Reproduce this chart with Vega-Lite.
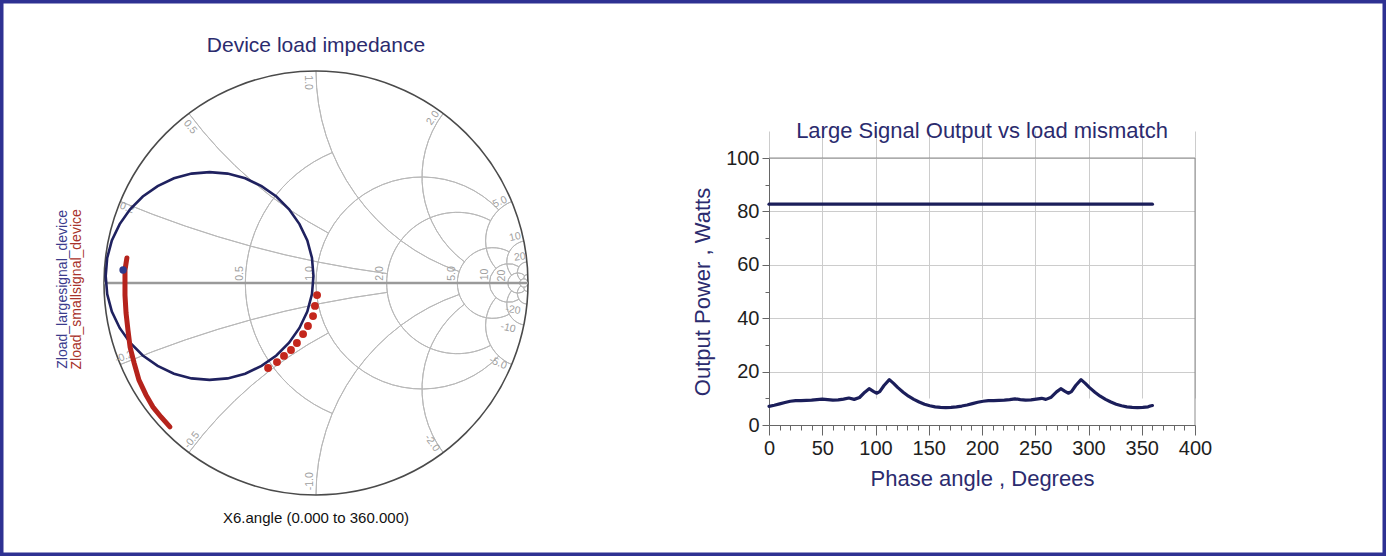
{
  "$schema": "https://vega.github.io/schema/vega-lite/v6.json",
  "width": 1386,
  "height": 556,
  "autosize": "none",
  "padding": 0,
  "background": "#ffffff",
  "config": {"view": {"stroke": "#2e3192", "strokeWidth": 7}, "font": "Liberation Sans"},
  "datasets": {
    "grid": [
      {"cx": 0.33333, "cy": 0, "rad": 0.66667, "t1": -157.38, "t2": -22.62},
      {"cx": 0.5, "cy": 0, "rad": 0.5, "t1": -226.4, "t2": 46.4},
      {"cx": 0.66667, "cy": 0, "rad": 0.33333, "t1": -208.07, "t2": 28.07},
      {"cx": 0.83333, "cy": 0, "rad": 0.16667, "t1": -208.07, "t2": 28.07},
      {"cx": 0.90909, "cy": 0, "rad": 0.09091, "t1": -212.4, "t2": 32.4},
      {"cx": 0.95238, "cy": 0, "rad": 0.04762, "t1": -224.4, "t2": 44.4},
      {"cx": 0.98039, "cy": 0, "rad": 0.01961, "t1": -180, "t2": 180},
      {"cx": 1, "cy": 5, "rad": 5, "t1": -172.37, "t2": -157.38},
      {"cx": 1, "cy": -5, "rad": 5, "t1": -22.62, "t2": -7.63},
      {"cx": 1, "cy": 2, "rad": 2, "t1": -151.93, "t2": -126.87},
      {"cx": 1, "cy": -2, "rad": 2, "t1": -53.13, "t2": -28.07},
      {"cx": 1, "cy": 1, "rad": 1, "t1": -161.08, "t2": -90},
      {"cx": 1, "cy": -1, "rad": 1, "t1": -90, "t2": -18.92},
      {"cx": 1, "cy": 0.5, "rad": 0.5, "t1": -143.13, "t2": -53.13},
      {"cx": 1, "cy": -0.5, "rad": 0.5, "t1": -126.87, "t2": -36.87},
      {"cx": 1, "cy": 0.2, "rad": 0.2, "t1": -131.1, "t2": -22.62},
      {"cx": 1, "cy": -0.2, "rad": 0.2, "t1": -157.38, "t2": -48.9},
      {"cx": 1, "cy": 0.1, "rad": 0.1, "t1": -129.1, "t2": -11.42},
      {"cx": 1, "cy": -0.1, "rad": 0.1, "t1": -168.58, "t2": -50.9},
      {"cx": 1, "cy": 0.05, "rad": 0.05, "t1": -137.2, "t2": -5.73},
      {"cx": 1, "cy": -0.05, "rad": 0.05, "t1": -174.27, "t2": -42.8},
      {"cx": 1, "cy": 0.02, "rad": 0.02, "t1": -91.1, "t2": -2.29},
      {"cx": 1, "cy": -0.02, "rad": 0.02, "t1": -177.71, "t2": -88.9}
    ],
    "rim": [{"cx": 0, "cy": 0, "rad": 1, "t1": 0, "t2": 360}],
    "slabels": [
      {"t": "0.5", "gx": -0.36, "gy": 0.045, "rot": -90},
      {"t": "1.0", "gx": -0.03, "gy": 0.045, "rot": -90},
      {"t": "2.0", "gx": 0.3, "gy": 0.045, "rot": -90},
      {"t": "5.0", "gx": 0.64, "gy": 0.045, "rot": -90},
      {"t": "10", "gx": 0.795, "gy": 0.04, "rot": -90},
      {"t": "20", "gx": 0.875, "gy": 0.035, "rot": -90},
      {"t": "0.2", "gx": -0.892, "gy": 0.354, "rot": 21.6},
      {"t": "0.5", "gx": -0.594, "gy": 0.736, "rot": 51},
      {"t": "1.0", "gx": -0.04, "gy": 0.945, "rot": 90},
      {"t": "2.0", "gx": 0.552, "gy": 0.778, "rot": -54.6},
      {"t": "5.0", "gx": 0.868, "gy": 0.382, "rot": -23.7},
      {"t": "10", "gx": 0.939, "gy": 0.217, "rot": -13},
      {"t": "20", "gx": 0.962, "gy": 0.123, "rot": -7.3},
      {"t": "-0.2", "gx": -0.905, "gy": -0.349, "rot": -21},
      {"t": "-0.5", "gx": -0.585, "gy": -0.741, "rot": -51.7},
      {"t": "-1.0", "gx": -0.03, "gy": -0.935, "rot": -90},
      {"t": "-2.0", "gx": 0.547, "gy": -0.755, "rot": 54},
      {"t": "-5.0", "gx": 0.858, "gy": -0.377, "rot": 23.7},
      {"t": "-10", "gx": 0.906, "gy": -0.212, "rot": 13},
      {"t": "-20", "gx": 0.929, "gy": -0.127, "rot": 7.8}
    ],
    "big": [
      {"i": 0, "gx": -0.012, "gy": 0.033}, {"i": 1, "gx": -0.019, "gy": 0.118},
      {"i": 2, "gx": -0.041, "gy": 0.201}, {"i": 3, "gx": -0.078, "gy": 0.278},
      {"i": 4, "gx": -0.127, "gy": 0.348}, {"i": 5, "gx": -0.187, "gy": 0.408},
      {"i": 6, "gx": -0.257, "gy": 0.457}, {"i": 7, "gx": -0.334, "gy": 0.494},
      {"i": 8, "gx": -0.417, "gy": 0.516}, {"i": 9, "gx": -0.502, "gy": 0.523},
      {"i": 10, "gx": -0.587, "gy": 0.516}, {"i": 11, "gx": -0.67, "gy": 0.494},
      {"i": 12, "gx": -0.747, "gy": 0.457}, {"i": 13, "gx": -0.817, "gy": 0.408},
      {"i": 14, "gx": -0.877, "gy": 0.348}, {"i": 15, "gx": -0.926, "gy": 0.278},
      {"i": 16, "gx": -0.963, "gy": 0.201}, {"i": 17, "gx": -0.985, "gy": 0.118},
      {"i": 18, "gx": -0.992, "gy": 0.033}, {"i": 19, "gx": -0.985, "gy": -0.052},
      {"i": 20, "gx": -0.963, "gy": -0.135}, {"i": 21, "gx": -0.926, "gy": -0.212},
      {"i": 22, "gx": -0.877, "gy": -0.282}, {"i": 23, "gx": -0.817, "gy": -0.342},
      {"i": 24, "gx": -0.747, "gy": -0.391}, {"i": 25, "gx": -0.67, "gy": -0.428},
      {"i": 26, "gx": -0.587, "gy": -0.45}, {"i": 27, "gx": -0.502, "gy": -0.457},
      {"i": 28, "gx": -0.417, "gy": -0.45}, {"i": 29, "gx": -0.334, "gy": -0.428},
      {"i": 30, "gx": -0.257, "gy": -0.391}, {"i": 31, "gx": -0.187, "gy": -0.342},
      {"i": 32, "gx": -0.127, "gy": -0.282}, {"i": 33, "gx": -0.078, "gy": -0.212},
      {"i": 34, "gx": -0.041, "gy": -0.135}, {"i": 35, "gx": -0.019, "gy": -0.052},
      {"i": 36, "gx": -0.012, "gy": 0.033}
    ],
    "small": [
      {"i": 0, "gx": -0.892, "gy": 0.118}, {"i": 1, "gx": -0.901, "gy": 0.061},
      {"i": 2, "gx": -0.901, "gy": 0.014}, {"i": 3, "gx": -0.901, "gy": -0.057},
      {"i": 4, "gx": -0.896, "gy": -0.142}, {"i": 5, "gx": -0.887, "gy": -0.222},
      {"i": 6, "gx": -0.877, "gy": -0.302}, {"i": 7, "gx": -0.858, "gy": -0.377},
      {"i": 8, "gx": -0.835, "gy": -0.458}, {"i": 9, "gx": -0.802, "gy": -0.528},
      {"i": 10, "gx": -0.769, "gy": -0.585}, {"i": 11, "gx": -0.731, "gy": -0.632},
      {"i": 12, "gx": -0.689, "gy": -0.679}
    ],
    "dots": [
      {"gx": 0.005, "gy": -0.057}, {"gx": -0.005, "gy": -0.108},
      {"gx": -0.014, "gy": -0.156}, {"gx": -0.038, "gy": -0.203},
      {"gx": -0.061, "gy": -0.241}, {"gx": -0.09, "gy": -0.283},
      {"gx": -0.118, "gy": -0.316}, {"gx": -0.151, "gy": -0.344},
      {"gx": -0.184, "gy": -0.373}, {"gx": -0.226, "gy": -0.401}
    ],
    "bdot": [{"gx": -0.91, "gy": 0.061}],
    "pw": [
      {"s": "large", "deg": 0, "w": 82.7}, {"s": "large", "deg": 90, "w": 82.7},
      {"s": "large", "deg": 180, "w": 82.7}, {"s": "large", "deg": 270, "w": 82.7},
      {"s": "large", "deg": 360, "w": 82.7},
      {"s": "small", "deg": 0, "w": 7.0}, {"s": "small", "deg": 5, "w": 7.4},
      {"s": "small", "deg": 10, "w": 7.9}, {"s": "small", "deg": 15, "w": 8.4},
      {"s": "small", "deg": 20, "w": 8.9}, {"s": "small", "deg": 25, "w": 9.1},
      {"s": "small", "deg": 30, "w": 9.1}, {"s": "small", "deg": 35, "w": 9.2},
      {"s": "small", "deg": 40, "w": 9.3}, {"s": "small", "deg": 45, "w": 9.5},
      {"s": "small", "deg": 50, "w": 9.7}, {"s": "small", "deg": 55, "w": 9.5},
      {"s": "small", "deg": 60, "w": 9.3}, {"s": "small", "deg": 65, "w": 9.4},
      {"s": "small", "deg": 70, "w": 9.7}, {"s": "small", "deg": 75, "w": 10.1},
      {"s": "small", "deg": 80, "w": 9.6}, {"s": "small", "deg": 85, "w": 10.3},
      {"s": "small", "deg": 90, "w": 12.3}, {"s": "small", "deg": 94, "w": 13.6},
      {"s": "small", "deg": 98, "w": 12.6}, {"s": "small", "deg": 101, "w": 11.9},
      {"s": "small", "deg": 104, "w": 12.5}, {"s": "small", "deg": 108, "w": 14.8},
      {"s": "small", "deg": 113, "w": 17.0}, {"s": "small", "deg": 117, "w": 15.6},
      {"s": "small", "deg": 121, "w": 14.0}, {"s": "small", "deg": 126, "w": 12.3},
      {"s": "small", "deg": 131, "w": 10.8}, {"s": "small", "deg": 136, "w": 9.6},
      {"s": "small", "deg": 141, "w": 8.6}, {"s": "small", "deg": 146, "w": 7.8},
      {"s": "small", "deg": 151, "w": 7.2}, {"s": "small", "deg": 156, "w": 6.8},
      {"s": "small", "deg": 161, "w": 6.6}, {"s": "small", "deg": 166, "w": 6.5},
      {"s": "small", "deg": 171, "w": 6.6}, {"s": "small", "deg": 176, "w": 6.8},
      {"s": "small", "deg": 181, "w": 7.1}, {"s": "small", "deg": 186, "w": 7.5},
      {"s": "small", "deg": 191, "w": 8.0}, {"s": "small", "deg": 196, "w": 8.5},
      {"s": "small", "deg": 201, "w": 8.9}, {"s": "small", "deg": 206, "w": 9.1},
      {"s": "small", "deg": 211, "w": 9.1}, {"s": "small", "deg": 216, "w": 9.2},
      {"s": "small", "deg": 221, "w": 9.3}, {"s": "small", "deg": 226, "w": 9.5},
      {"s": "small", "deg": 231, "w": 9.8}, {"s": "small", "deg": 236, "w": 9.5},
      {"s": "small", "deg": 241, "w": 9.3}, {"s": "small", "deg": 246, "w": 9.4},
      {"s": "small", "deg": 251, "w": 9.7}, {"s": "small", "deg": 256, "w": 10.0},
      {"s": "small", "deg": 260, "w": 9.6}, {"s": "small", "deg": 265, "w": 10.4},
      {"s": "small", "deg": 270, "w": 12.4}, {"s": "small", "deg": 274, "w": 13.6},
      {"s": "small", "deg": 278, "w": 12.6}, {"s": "small", "deg": 281, "w": 11.9},
      {"s": "small", "deg": 284, "w": 12.5}, {"s": "small", "deg": 288, "w": 14.8},
      {"s": "small", "deg": 293, "w": 17.0}, {"s": "small", "deg": 297, "w": 15.6},
      {"s": "small", "deg": 301, "w": 14.0}, {"s": "small", "deg": 306, "w": 12.3},
      {"s": "small", "deg": 311, "w": 10.8}, {"s": "small", "deg": 316, "w": 9.6},
      {"s": "small", "deg": 321, "w": 8.6}, {"s": "small", "deg": 326, "w": 7.8},
      {"s": "small", "deg": 331, "w": 7.2}, {"s": "small", "deg": 336, "w": 6.8},
      {"s": "small", "deg": 341, "w": 6.6}, {"s": "small", "deg": 346, "w": 6.5},
      {"s": "small", "deg": 351, "w": 6.6}, {"s": "small", "deg": 356, "w": 6.8},
      {"s": "small", "deg": 358, "w": 7.1}, {"s": "small", "deg": 360, "w": 7.3}
    ]
  },
  "layer": [
    {
      "layer": [
        {
          "data": {"name": "grid"},
          "mark": {"type": "arc", "filled": false, "stroke": "#b8b8b8", "strokeWidth": 1},
          "encoding": {
            "x": {"field": "cx", "type": "quantitative", "scale": {"domain": [-1, 1], "range": [104, 528], "nice": false, "zero": false}, "axis": null},
            "y": {"field": "cy", "type": "quantitative", "scale": {"domain": [-1, 1], "range": [495, 71], "nice": false, "zero": false}, "axis": null},
            "radius": {"field": "rad", "type": "quantitative", "scale": {"type": "linear", "domain": [0, 1], "range": [0, 212], "zero": true, "nice": false}},
            "radius2": {"field": "rad"},
            "theta": {"field": "t1", "type": "quantitative", "scale": {"type": "linear", "domain": [0, 360], "range": [0, 6.283185307179586], "zero": false, "nice": false}},
            "theta2": {"field": "t2"}
          }
        },
        {
          "data": {"name": "rim"},
          "mark": {"type": "arc", "filled": false, "stroke": "#4a4a4a", "strokeWidth": 1.6},
          "encoding": {
            "x": {"field": "cx", "type": "quantitative", "scale": {"domain": [-1, 1], "range": [104, 528], "nice": false, "zero": false}, "axis": null},
            "y": {"field": "cy", "type": "quantitative", "scale": {"domain": [-1, 1], "range": [495, 71], "nice": false, "zero": false}, "axis": null},
            "radius": {"field": "rad", "type": "quantitative", "scale": {"type": "linear", "domain": [0, 1], "range": [0, 212], "zero": true, "nice": false}},
            "radius2": {"field": "rad"},
            "theta": {"field": "t1", "type": "quantitative", "scale": {"type": "linear", "domain": [0, 360], "range": [0, 6.283185307179586], "zero": false, "nice": false}},
            "theta2": {"field": "t2"}
          }
        },
        {
          "data": {"values": [{}]},
          "mark": {"type": "rule", "color": "#9a9a9a", "strokeWidth": 2.5},
          "encoding": {
            "x": {"datum": -1, "type": "quantitative", "scale": {"domain": [-1, 1], "range": [104, 528], "nice": false, "zero": false}, "axis": null},
            "x2": {"datum": 1},
            "y": {"datum": 0, "type": "quantitative", "scale": {"domain": [-1, 1], "range": [495, 71], "nice": false, "zero": false}, "axis": null}
          }
        },
        {
          "data": {"name": "slabels"},
          "mark": {"type": "text", "fontSize": 10.5, "color": "#a0a0a0", "align": "center", "baseline": "middle"},
          "encoding": {
            "x": {"field": "gx", "type": "quantitative", "scale": {"domain": [-1, 1], "range": [104, 528], "nice": false, "zero": false}, "axis": null},
            "y": {"field": "gy", "type": "quantitative", "scale": {"domain": [-1, 1], "range": [495, 71], "nice": false, "zero": false}, "axis": null},
            "text": {"field": "t"},
            "angle": {"field": "rot", "type": "quantitative", "scale": null}
          }
        },
        {
          "data": {"name": "big"},
          "mark": {"type": "line", "color": "#1f215f", "strokeWidth": 2.6},
          "encoding": {
            "x": {"field": "gx", "type": "quantitative", "scale": {"domain": [-1, 1], "range": [104, 528], "nice": false, "zero": false}, "axis": null},
            "y": {"field": "gy", "type": "quantitative", "scale": {"domain": [-1, 1], "range": [495, 71], "nice": false, "zero": false}, "axis": null},
            "order": {"field": "i", "type": "quantitative"}
          }
        },
        {
          "data": {"name": "small"},
          "mark": {"type": "line", "color": "#b5231c", "strokeWidth": 5, "strokeCap": "round"},
          "encoding": {
            "x": {"field": "gx", "type": "quantitative", "scale": {"domain": [-1, 1], "range": [104, 528], "nice": false, "zero": false}, "axis": null},
            "y": {"field": "gy", "type": "quantitative", "scale": {"domain": [-1, 1], "range": [495, 71], "nice": false, "zero": false}, "axis": null},
            "order": {"field": "i", "type": "quantitative"}
          }
        },
        {
          "data": {"name": "dots"},
          "mark": {"type": "point", "filled": true, "shape": "circle", "size": 62, "color": "#c4271d", "opacity": 1},
          "encoding": {
            "x": {"field": "gx", "type": "quantitative", "scale": {"domain": [-1, 1], "range": [104, 528], "nice": false, "zero": false}, "axis": null},
            "y": {"field": "gy", "type": "quantitative", "scale": {"domain": [-1, 1], "range": [495, 71], "nice": false, "zero": false}, "axis": null}
          }
        },
        {
          "data": {"name": "bdot"},
          "mark": {"type": "point", "filled": true, "shape": "circle", "size": 55, "color": "#2d3a8c", "opacity": 1},
          "encoding": {
            "x": {"field": "gx", "type": "quantitative", "scale": {"domain": [-1, 1], "range": [104, 528], "nice": false, "zero": false}, "axis": null},
            "y": {"field": "gy", "type": "quantitative", "scale": {"domain": [-1, 1], "range": [495, 71], "nice": false, "zero": false}, "axis": null}
          }
        },
        {
          "data": {"values": [{}]},
          "mark": {"type": "text", "fontSize": 14, "color": "#3b3b8c", "align": "center", "baseline": "middle", "angle": 270},
          "encoding": {
            "x": {"datum": -1.193, "type": "quantitative", "scale": {"domain": [-1, 1], "range": [104, 528], "nice": false, "zero": false}, "axis": null},
            "y": {"datum": -0.03, "type": "quantitative", "scale": {"domain": [-1, 1], "range": [495, 71], "nice": false, "zero": false}, "axis": null},
            "text": {"value": "Zload_largesignal_device"}
          }
        },
        {
          "data": {"values": [{}]},
          "mark": {"type": "text", "fontSize": 14, "color": "#a8322a", "align": "center", "baseline": "middle", "angle": 270},
          "encoding": {
            "x": {"datum": -1.127, "type": "quantitative", "scale": {"domain": [-1, 1], "range": [104, 528], "nice": false, "zero": false}, "axis": null},
            "y": {"datum": -0.03, "type": "quantitative", "scale": {"domain": [-1, 1], "range": [495, 71], "nice": false, "zero": false}, "axis": null},
            "text": {"value": "Zload_smallsignal_device"}
          }
        },
        {
          "data": {"values": [{}]},
          "mark": {"type": "text", "fontSize": 21, "color": "#2b2b6e", "align": "center", "baseline": "middle"},
          "encoding": {
            "x": {"datum": 0, "type": "quantitative", "scale": {"domain": [-1, 1], "range": [104, 528], "nice": false, "zero": false}, "axis": null},
            "y": {"datum": 1.118, "type": "quantitative", "scale": {"domain": [-1, 1], "range": [495, 71], "nice": false, "zero": false}, "axis": null},
            "text": {"value": "Device load impedance"}
          }
        },
        {
          "data": {"values": [{}]},
          "mark": {"type": "text", "fontSize": 15, "color": "#111111", "align": "center", "baseline": "middle"},
          "encoding": {
            "x": {"datum": 0, "type": "quantitative", "scale": {"domain": [-1, 1], "range": [104, 528], "nice": false, "zero": false}, "axis": null},
            "y": {"datum": -1.11, "type": "quantitative", "scale": {"domain": [-1, 1], "range": [495, 71], "nice": false, "zero": false}, "axis": null},
            "text": {"value": "X6.angle (0.000 to 360.000)"}
          }
        }
      ]
    },
    {
      "layer": [
        {
          "data": {"name": "pw"},
          "mark": {"type": "point", "opacity": 0},
          "encoding": {
            "x": {"field": "deg", "type": "quantitative", "scale": {"domain": [0, 400], "range": [769, 1195], "nice": false, "zero": false},
              "axis": {"orient": "bottom", "offset": -131, "values": [10, 20, 30, 40, 60, 70, 80, 90, 110, 120, 130, 140, 160, 170, 180, 190, 210, 220, 230, 240, 260, 270, 280, 290, 310, 320, 330, 340, 360, 370, 380, 390], "labels": false, "grid": false, "domain": false, "ticks": true, "tickSize": 5, "tickColor": "#666666", "title": null}},
            "y": {"field": "w", "type": "quantitative", "scale": {"domain": [0, 100], "range": [425, 158], "nice": false, "zero": false},
              "axis": {"orient": "left", "offset": -769, "values": [10, 30, 50, 70, 90], "labels": false, "grid": false, "domain": false, "ticks": true, "tickSize": 4, "tickColor": "#666666", "title": null}}
          }
        },
        {
          "data": {"name": "pw"},
          "mark": {"type": "line", "color": "#1b1e5a", "strokeWidth": 3.2, "strokeCap": "round", "strokeJoin": "round"},
          "encoding": {
            "x": {"field": "deg", "type": "quantitative", "scale": {"domain": [0, 400], "range": [769, 1195], "nice": false, "zero": false},
              "axis": {"orient": "bottom", "offset": -131, "values": [0, 50, 100, 150, 200, 250, 300, 350, 400], "grid": true, "gridColor": "#cccccc", "domainColor": "#666666", "tickColor": "#666666", "tickSize": 10, "labelFontSize": 20, "labelColor": "#1e1e1e", "labelPadding": 3, "labelFlush": false, "labelOverlap": false, "title": "Phase angle , Degrees", "titleFontSize": 22, "titleFontWeight": "normal", "titleColor": "#2b2b6e", "titlePadding": 10}},
            "y": {"field": "w", "type": "quantitative", "scale": {"domain": [0, 100], "range": [425, 158], "nice": false, "zero": false},
              "axis": {"orient": "left", "offset": -769, "values": [0, 20, 40, 60, 80, 100], "grid": true, "gridColor": "#cccccc", "domainColor": "#666666", "tickColor": "#666666", "tickSize": 7, "labelFontSize": 20, "labelColor": "#1e1e1e", "labelPadding": 3, "labelFlush": false, "labelOverlap": false, "title": "Output Power , Watts", "titleFontSize": 22, "titleFontWeight": "normal", "titleColor": "#2b2b6e", "titlePadding": 11}},
            "detail": {"field": "s"}
          }
        },
        {
          "data": {"values": [{}]},
          "mark": {"type": "rule", "color": "#8c8c8c", "strokeWidth": 1},
          "encoding": {
            "x": {"datum": 0, "type": "quantitative", "axis": null},
            "x2": {"datum": 400},
            "y": {"datum": 100, "type": "quantitative", "axis": null}
          }
        },
        {
          "data": {"values": [{}]},
          "mark": {"type": "rule", "color": "#8c8c8c", "strokeWidth": 1},
          "encoding": {
            "x": {"datum": 400, "type": "quantitative", "axis": null},
            "y": {"datum": 0, "type": "quantitative", "axis": null},
            "y2": {"datum": 100}
          }
        },
        {
          "data": {"values": [{}]},
          "mark": {"type": "text", "fontSize": 22, "color": "#2b2b6e", "align": "center", "baseline": "middle"},
          "encoding": {
            "x": {"datum": 200, "type": "quantitative", "axis": null},
            "y": {"datum": 110, "type": "quantitative", "axis": null},
            "text": {"value": "Large Signal Output vs load mismatch"}
          }
        }
      ],
      "resolve": {"axis": {"x": "independent", "y": "independent"}}
    }
  ],
  "resolve": {"scale": {"x": "independent", "y": "independent"}}
}
